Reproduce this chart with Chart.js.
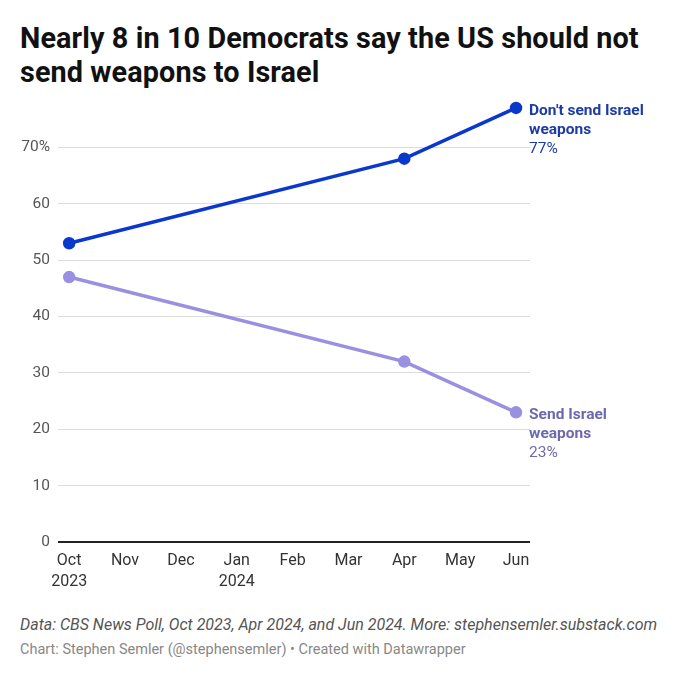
<!DOCTYPE html>
<html>
<head>
<meta charset="utf-8">
<script src="https://cdn.jsdelivr.net/npm/chart.js@4.4.1/dist/chart.umd.min.js"></script>
<style>
  html, body { margin: 0; padding: 0; background: #fff; }
  body { width: 680px; height: 678px; position: relative; font-family: Roboto, sans-serif; overflow: hidden; }
  #title { position: absolute; left: 20px; top: 21px; width: 660px; font-size: 28.8px; font-weight: 700; line-height: 34px; color: #111; letter-spacing: 0.1px; }
  #wrap { position: absolute; left: 0; top: 85px; width: 680px; height: 519px; }
  #notes { position: absolute; left: 20px; top: 615px; font-size: 16px; font-style: italic; color: #555; }
  #credit { position: absolute; left: 20px; top: 641px; font-size: 14.5px; color: #888; }
</style>
</head>
<body>
<div id="title">Nearly 8 in 10 Democrats say the US should not<br>send weapons to Israel</div>
<div id="wrap"><canvas id="chart"></canvas></div>
<div id="notes">Data: CBS News Poll, Oct 2023, Apr 2024, and Jun 2024. More: stephensemler.substack.com</div>
<div id="credit">Chart: Stephen Semler (@stephensemler) • Created with Datawrapper</div>

<script>
// months on the x axis (index 0 = Oct 2023)
const monthLabels = [['Oct', '2023'], 'Nov', 'Dec', ['Jan', '2024'], 'Feb', 'Mar', 'Apr', 'May', 'Jun'];
// poll dates as month index
const pollMonths = [0, 6, 8];
const dontSend = [53, 68, 77];
const send = [47, 32, 23];
const yTicks = [0, 10, 20, 30, 40, 50, 60, 70];

const seriesNames = [['Don\'t send Israel', 'weapons'], ['Send Israel', 'weapons']];
const lineColors = ['#0b38cc', '#9a90e2'];
const textColors = ['#1c3ca4', '#6d69ae'];

function toPoints(vals) {
    return vals.map((v, i) => ({ x: pollMonths[i], y: v }));
}

// labels at the end of each line
const endLabels = {
    id: 'endLabels',
    afterDatasetsDraw(chart) {
        const ctx = chart.ctx;
        chart.data.datasets.forEach((ds, i) => {
            const meta = chart.getDatasetMeta(i);
            const last = meta.data[meta.data.length - 1];
            const x = last.x + 13;
            const y = last.y + 3;
            ctx.save();
            ctx.fillStyle = textColors[i];
            ctx.textBaseline = 'middle';
            ctx.textAlign = 'left';
            ctx.font = '700 15.5px Roboto';
            ctx.fillText(seriesNames[i][0], x, y);
            ctx.fillText(seriesNames[i][1], x, y + 19);
            ctx.font = '400 15.5px Roboto';
            ctx.fillText(ds.data[ds.data.length - 1].y + '%', x, y + 38);
            ctx.restore();
        });
    }
};

new Chart(document.getElementById('chart'), {
    type: 'line',
    data: {
        datasets: [
            {
                label: 'Don\'t send Israel weapons',
                data: toPoints(dontSend),
                borderColor: lineColors[0],
                backgroundColor: lineColors[0],
                borderWidth: 3.5,
                pointRadius: 4.5,
                pointHoverRadius: 4.5,
                tension: 0
            },
            {
                label: 'Send Israel weapons',
                data: toPoints(send),
                borderColor: lineColors[1],
                backgroundColor: lineColors[1],
                borderWidth: 3.5,
                pointRadius: 4.5,
                pointHoverRadius: 4.5,
                tension: 0
            }
        ]
    },
    options: {
        responsive: true,
        maintainAspectRatio: false,
        animation: false,
        clip: false,
        layout: { padding: { top: 5, right: 150, left: 0, bottom: 0 } },
        plugins: {
            legend: { display: false },
            tooltip: { enabled: false }
        },
        scales: {
            x: {
                type: 'linear',
                min: -0.2,
                max: 8.25,
                afterBuildTicks: (scale) => { scale.ticks = monthLabels.map((_, i) => ({ value: i })); },
                afterFit: (scale) => { scale.height = 62; },
                grid: { display: false, drawTicks: false },
                border: { display: false },
                ticks: {
                    color: '#333',
                    font: { family: 'Roboto', size: 16, lineHeight: 1.3 },
                    padding: 9,
                    maxRotation: 0,
                    autoSkip: false,
                    callback: (v) => monthLabels[v]
                }
            },
            y: {
                min: 0,
                max: 78,
                afterBuildTicks: (scale) => { scale.ticks = yTicks.map(v => ({ value: v })); },
                afterFit: (scale) => { scale.width = 58; },
                border: { display: false },
                grid: {
                    drawTicks: false,
                    color: (c) => c.tick && c.tick.value === 0 ? '#222' : '#dddddd',
                    lineWidth: (c) => c.tick && c.tick.value === 0 ? 2 : 1
                },
                ticks: {
                    color: '#555',
                    font: { family: 'Roboto', size: 15.5 },
                    padding: 8,
                    callback: (v) => v === 70 ? '70%' : v
                }
            }
        }
    },
    plugins: [endLabels]
});
</script>
</body>
</html>
